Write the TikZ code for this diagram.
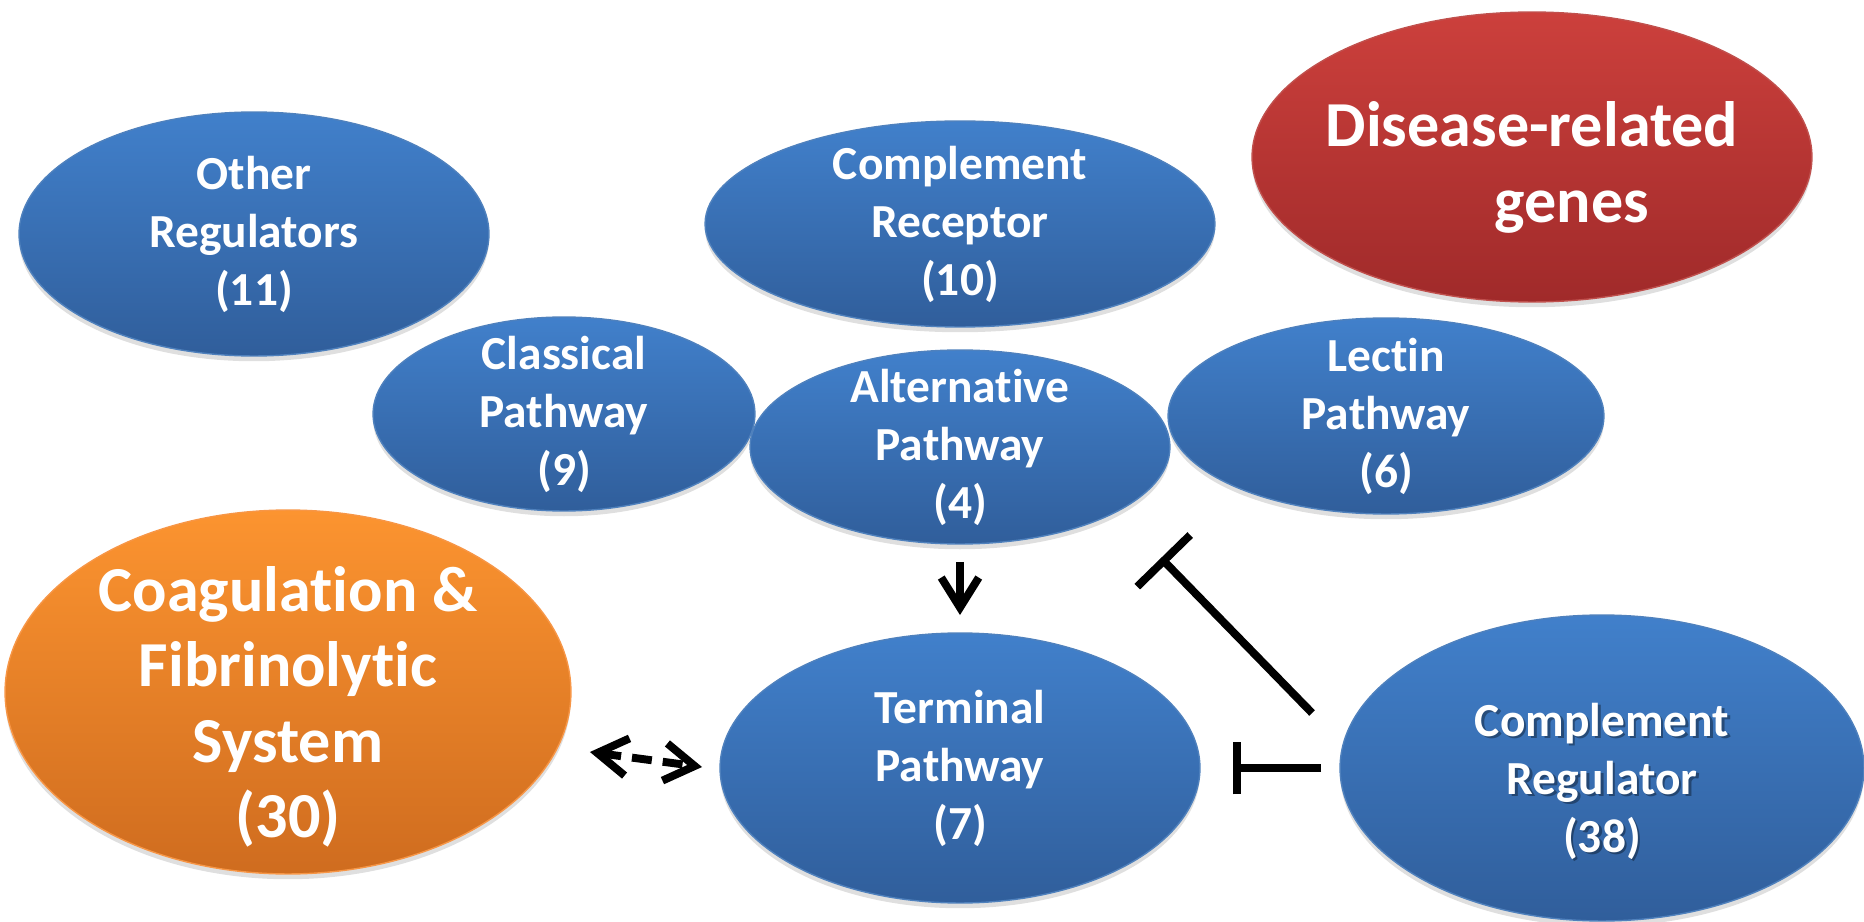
\documentclass[tikz,border=0pt]{standalone}
\usepackage{fontspec}
\setmainfont{Carlito}[Ligatures=NoCommon]
\usetikzlibrary{shapes.geometric,arrows.meta,shadows}

\definecolor{bluetop}{RGB}{65,128,203}
\definecolor{bluebot}{RGB}{48,94,155}
\definecolor{bluedge}{RGB}{79,129,189}
\definecolor{orangetop}{RGB}{252,148,48}
\definecolor{orangebot}{RGB}{207,108,31}
\definecolor{orangedge}{RGB}{247,150,70}
\definecolor{redtop}{RGB}{204,64,60}
\definecolor{redbot}{RGB}{160,42,42}
\definecolor{redge}{RGB}{192,80,77}

\tikzset{
  blob/.style={ellipse, inner sep=0pt, outer sep=0pt, line width=0.8pt,
    drop shadow={opacity=0.25, shadow xshift=0pt, shadow yshift=-3pt}},
  blueblob/.style={blob, draw=bluedge, top color=bluetop, bottom color=bluebot},
  orangeblob/.style={blob, draw=orangedge, top color=orangetop, bottom color=orangebot},
  redblob/.style={blob, draw=redge, top color=redtop, bottom color=redbot},
  lbl/.style={text=white, align=center, font=\bfseries\fontsize{27}{33}\selectfont},
  biglbl/.style={lbl, font=\bfseries\fontsize{36.5}{43}\selectfont},
  link/.style={line width=4.5pt},
  barb/.tip={Straight Barb[length=0.6cm,width=0.75cm]}
}

\begin{document}
\begin{tikzpicture}[x=0.02cm, y=-0.02cm]
\useasboundingbox (0,0) rectangle (1864,922);

% groups of genes
\node[blueblob, minimum width=9.4cm, minimum height=4.88cm] (other) at (254,234) {};
\node[lbl] (othertxt) at (other) {Other\\Regulators\\(11)};

\node[blueblob, minimum width=10.2cm, minimum height=4.12cm] (recep) at (960,224) {};
\node[lbl] (receptxt) at (recep) {Complement\\Receptor\\(10)};

\node[redblob, minimum width=11.2cm, minimum height=5.8cm] (disease) at (1532,157) {};
\node[biglbl] (diseasetxt) at ([yshift=-6]disease) {Disease-related\\\hspace*{1.6cm}genes};

\node[blueblob, minimum width=7.64cm, minimum height=3.88cm] (class) at (564,414) {};
\node[lbl] (classtxt) at (class) {Classical\\Pathway\\(9)};

\node[blueblob, minimum width=8.4cm, minimum height=3.88cm] (alt) at (960,447) {};
\node[lbl] (alttxt) at (alt) {Alternative\\Pathway\\(4)};

\node[blueblob, minimum width=8.72cm, minimum height=3.92cm] (lectin) at (1386,416) {};
\node[lbl] (lectintxt) at (lectin) {Lectin\\Pathway\\(6)};

\node[orangeblob, minimum width=11.32cm, minimum height=7.28cm] (coag) at (288,692) {};
\node[biglbl] (coagtxt) at ([yshift=-0.3cm]coag) {Coagulation \&\\Fibrinolytic\\System\\(30)};

\node[blueblob, minimum width=9.6cm, minimum height=5.4cm] (term) at (960,768) {};
\node[lbl] (termtxt) at (term) {Terminal\\Pathway\\(7)};

\node[blueblob, minimum width=10.48cm, minimum height=6.12cm] (reg) at (1602,768) {};
\node[lbl, text=black, opacity=0.35] (regshade) at ([shift={(0.05cm,-0.31cm)}]reg) {Complement\\Regulator\\(38)};
\node[lbl] (regtxt) at ([yshift=-0.26cm]reg) {Complement\\Regulator\\(38)};

% connectors
\draw[link, -{barb}, shorten <=0.36cm, shorten >=0.36cm] (alt.south) -- (term.north);
\draw[link, dash pattern=on 0.4cm off 0.22cm, {barb}-{barb}]
  ([shift={(19,60)}]coag.east) -- ([shift={(-18,-1)}]term.west);
\draw[link, -{Bar[width=1.06cm]}, shorten <=0.38cm, shorten >=0.66cm] (reg.west) -- (term.east);
\draw[link, -{Bar[width=1.48cm]}] ([shift={(-28,-55)}]reg.west) -- ([shift={(-9,111)}]alt.east);
\end{tikzpicture}
\end{document}
